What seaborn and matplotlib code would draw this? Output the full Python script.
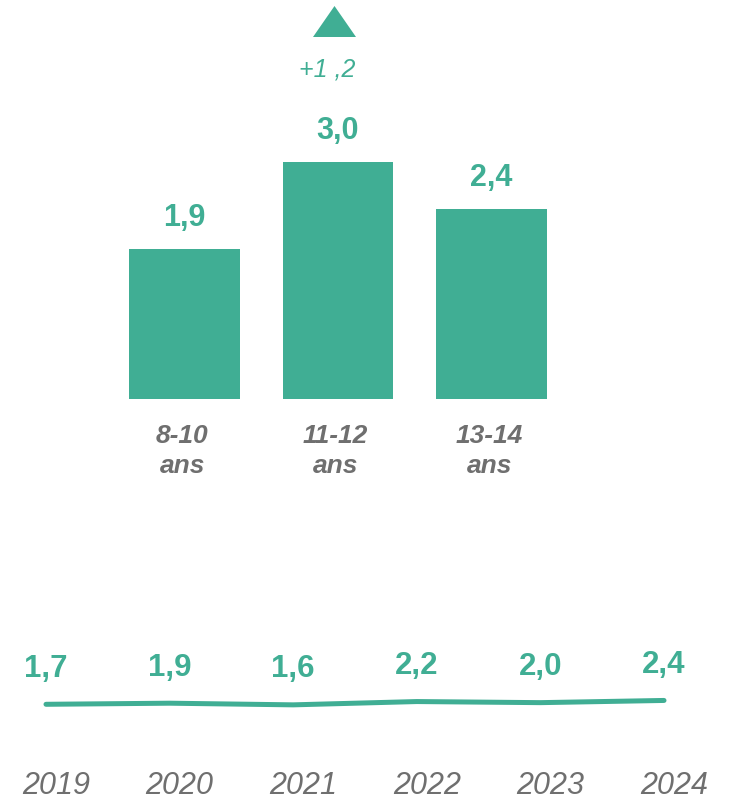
import matplotlib
matplotlib.use("Agg")
import matplotlib.pyplot as plt
import seaborn as sns
import pandas as pd
from matplotlib.patches import Polygon

sns.set_theme(style="white")
plt.rcParams['font.family'] = ['Liberation Sans', 'DejaVu Sans']

GREEN = "#40AE94"
GRAY = "#6F6F6F"

# --- data ---
age_groups = ["8-10", "11-12", "13-14"]
age_values = [1.9, 3.0, 2.4]
age_unit = "ans"
delta_label = "+1 ,2"
years = [2019, 2020, 2021, 2022, 2023, 2024]
year_values = [1.7, 1.9, 1.6, 2.2, 2.0, 2.4]

W, H = 730, 801
fig = plt.figure(figsize=(W / 100, H / 100), dpi=100)

def px_axes(left, top, right, bottom):
    return fig.add_axes([left / W, 1 - bottom / H, (right - left) / W, (bottom - top) / H])

# ---------- bar chart ----------
ax = px_axes(0, 0, W, 520)
df = pd.DataFrame({"age": age_groups, "val": age_values})
sns.barplot(data=df, x="age", y="val", color=GREEN, saturation=1, width=0.723, ax=ax)
for p in ax.patches:
    p.set_edgecolor("none")

xpx = 153.5
x0 = 184.5
ax.set_xlim((0 - x0) / xpx, (W - x0) / xpx)
ypx = 79.0
base = 399.0
ax.set_ylim(-(520 - base) / ypx, base / ypx)
ax.axis("off")

for i, v in enumerate(age_values):
    ax.annotate(f"{v:.1f}".replace(".", ","), (i, v), xytext=(0, 22.5), textcoords="offset points",
                ha="center", va="center", fontsize=22, fontweight="bold", color=GREEN)
    ax.text(i - 0.015, -(436 - base) / ypx, age_groups[i], ha="center", va="center",
            fontsize=19, fontweight="bold", fontstyle="italic", color=GRAY)
    ax.text(i - 0.015, -(466 - base) / ypx, age_unit, ha="center", va="center",
            fontsize=19, fontweight="bold", fontstyle="italic", color=GRAY)

# triangle + delta
tx = (334.5 - x0) / xpx
tri = Polygon([[tx - 21.5 / xpx, (base - 37) / ypx], [tx + 21.5 / xpx, (base - 37) / ypx],
               [tx, (base - 6) / ypx]], closed=True, facecolor=GREEN, edgecolor="none")
ax.add_patch(tri)
ax.text((327 - x0) / xpx, (base - 70) / ypx, delta_label, ha="center", va="center",
        fontsize=18, fontstyle="italic", color=GREEN)

# ---------- line chart ----------
ax2 = px_axes(0, 600, W, H)
dfl = pd.DataFrame({"year": years, "val": year_values})
sns.lineplot(data=dfl, x="year", y="val", color=GREEN, linewidth=3.6, ax=ax2,
             solid_capstyle="round", solid_joinstyle="round")
ypx2 = 5.5
yref = 704.3
ax2.set_ylim(1.7 - (H - yref) / ypx2, 1.7 + (yref - 600) / ypx2)
xpx2 = 123.6
ax2.set_xlim(2019 - 46 / xpx2, 2019 + (W - 46) / xpx2)
ax2.axis("off")
for yr, v in zip(years, year_values):
    ax2.annotate(f"{v:.1f}".replace(".", ","), (yr, v), xytext=(0, 25.5), textcoords="offset points",
                 ha="center", va="center", fontsize=22.5, fontweight="bold", color=GREEN)
    ax2.text(yr + 10 / xpx2, 1.7 - (786 - yref) / ypx2, str(yr), ha="center", va="center",
             fontsize=22, fontstyle="italic", color=GRAY)

fig.savefig("out.png", dpi=100)
